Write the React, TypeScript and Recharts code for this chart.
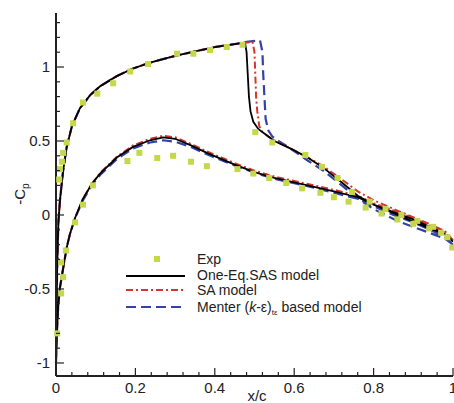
import React from "react";
import { ComposedChart, Line, Scatter, XAxis, YAxis, Legend } from "recharts";

// x/c ticks (every 0.04) and -Cp ticks (every 0.1); only the major ones get labels
const xTicks = [0, 0.04, 0.08, 0.12, 0.16, 0.2, 0.24, 0.28, 0.32, 0.36, 0.4, 0.44, 0.48, 0.52, 0.56, 0.6, 0.64, 0.68, 0.72, 0.76, 0.8, 0.84, 0.88, 0.92, 0.96, 1];
const xMajor = [0, 0.2, 0.4, 0.6, 0.8, 1];
const yTicks = [-1, -0.9, -0.8, -0.7, -0.6, -0.5, -0.4, -0.3, -0.2, -0.1, 0, 0.1, 0.2, 0.3, 0.4, 0.5, 0.6, 0.7, 0.8, 0.9, 1, 1.1, 1.2, 1.3];
const yMajor = [-1, -0.5, 0, 0.5, 1];

// experiment, suction side and pressure side
const expUpper = [
  { x: 0.008, y: 0.24 }, { x: 0.01, y: 0.31 }, { x: 0.015, y: 0.36 }, { x: 0.018, y: 0.42 },
  { x: 0.027, y: 0.49 }, { x: 0.043, y: 0.62 }, { x: 0.068, y: 0.76 }, { x: 0.104, y: 0.82 },
  { x: 0.144, y: 0.89 }, { x: 0.187, y: 0.97 }, { x: 0.232, y: 1.02 }, { x: 0.305, y: 1.09 },
  { x: 0.346, y: 1.09 }, { x: 0.388, y: 1.115 }, { x: 0.43, y: 1.135 }, { x: 0.47, y: 1.15 },
  { x: 0.502, y: 0.56 }, { x: 0.545, y: 0.49 }, { x: 0.628, y: 0.405 }, { x: 0.67, y: 0.325 },
  { x: 0.709, y: 0.25 }, { x: 0.746, y: 0.155 }, { x: 0.79, y: 0.09 }, { x: 0.83, y: 0.04 },
  { x: 0.87, y: 0.0 }, { x: 0.91, y: -0.04 }, { x: 0.95, y: -0.08 }, { x: 0.986, y: -0.15 },
];
const expLower = [
  { x: 0.003, y: -0.8 }, { x: 0.013, y: -0.53 }, { x: 0.018, y: -0.42 }, { x: 0.013, y: -0.32 },
  { x: 0.025, y: -0.24 }, { x: 0.048, y: -0.05 }, { x: 0.068, y: 0.07 }, { x: 0.093, y: 0.2 },
  { x: 0.18, y: 0.365 }, { x: 0.21, y: 0.42 }, { x: 0.255, y: 0.385 }, { x: 0.295, y: 0.4 },
  { x: 0.34, y: 0.36 }, { x: 0.38, y: 0.33 }, { x: 0.457, y: 0.31 }, { x: 0.497, y: 0.28 },
  { x: 0.537, y: 0.25 }, { x: 0.58, y: 0.216 }, { x: 0.62, y: 0.18 }, { x: 0.666, y: 0.15 },
  { x: 0.7, y: 0.12 }, { x: 0.737, y: 0.09 }, { x: 0.78, y: 0.05 }, { x: 0.82, y: 0.01 },
  { x: 0.86, y: -0.03 }, { x: 0.9, y: -0.06 }, { x: 0.94, y: -0.09 }, { x: 0.97, y: -0.12 },
  { x: 0.998, y: -0.22 },
];

// One-Eq.SAS model
const sasUpper = [
  { x: 0, y: -1 }, { x: 0.001, y: -0.7 }, { x: 0.003, y: -0.35 }, { x: 0.006, y: -0.05 },
  { x: 0.01, y: 0.1 }, { x: 0.018, y: 0.3 }, { x: 0.027, y: 0.46 }, { x: 0.04, y: 0.6 },
  { x: 0.06, y: 0.72 }, { x: 0.086, y: 0.81 }, { x: 0.111, y: 0.87 }, { x: 0.154, y: 0.94 },
  { x: 0.194, y: 0.99 }, { x: 0.237, y: 1.03 }, { x: 0.3, y: 1.075 }, { x: 0.35, y: 1.105 },
  { x: 0.4, y: 1.135 }, { x: 0.45, y: 1.155 }, { x: 0.476, y: 1.165 }, { x: 0.48, y: 1.1 },
  { x: 0.483, y: 0.95 }, { x: 0.486, y: 0.8 }, { x: 0.49, y: 0.7 }, { x: 0.497, y: 0.63 },
  { x: 0.51, y: 0.58 }, { x: 0.53, y: 0.54 }, { x: 0.55, y: 0.5 }, { x: 0.59, y: 0.45 },
  { x: 0.633, y: 0.39 }, { x: 0.673, y: 0.32 }, { x: 0.72, y: 0.22 }, { x: 0.76, y: 0.13 },
  { x: 0.8, y: 0.07 }, { x: 0.86, y: 0.0 }, { x: 0.94, y: -0.09 }, { x: 0.98, y: -0.13 },
  { x: 1, y: -0.18 },
];
const sasLower = [
  { x: 0, y: -1 }, { x: 0.001, y: -0.9 }, { x: 0.003, y: -0.75 }, { x: 0.006, y: -0.6 },
  { x: 0.01, y: -0.49 }, { x: 0.018, y: -0.36 }, { x: 0.027, y: -0.22 }, { x: 0.035, y: -0.13 },
  { x: 0.048, y: -0.02 }, { x: 0.068, y: 0.11 }, { x: 0.09, y: 0.21 }, { x: 0.111, y: 0.28 },
  { x: 0.154, y: 0.39 }, { x: 0.194, y: 0.46 }, { x: 0.237, y: 0.505 }, { x: 0.27, y: 0.525 },
  { x: 0.3, y: 0.515 }, { x: 0.34, y: 0.47 }, { x: 0.38, y: 0.42 }, { x: 0.45, y: 0.34 },
  { x: 0.5, y: 0.29 }, { x: 0.55, y: 0.25 }, { x: 0.6, y: 0.22 }, { x: 0.65, y: 0.19 },
  { x: 0.7, y: 0.16 }, { x: 0.76, y: 0.12 }, { x: 0.8, y: 0.07 }, { x: 0.85, y: 0.02 },
  { x: 0.9, y: -0.03 }, { x: 0.95, y: -0.09 }, { x: 0.98, y: -0.13 }, { x: 1, y: -0.18 },
];

// SA model
const saUpper = [
  { x: 0, y: -1 }, { x: 0.001, y: -0.7 }, { x: 0.003, y: -0.35 }, { x: 0.006, y: -0.05 },
  { x: 0.01, y: 0.1 }, { x: 0.018, y: 0.3 }, { x: 0.027, y: 0.46 }, { x: 0.04, y: 0.6 },
  { x: 0.06, y: 0.72 }, { x: 0.086, y: 0.81 }, { x: 0.111, y: 0.87 }, { x: 0.154, y: 0.94 },
  { x: 0.194, y: 0.99 }, { x: 0.237, y: 1.03 }, { x: 0.3, y: 1.075 }, { x: 0.35, y: 1.105 },
  { x: 0.4, y: 1.135 }, { x: 0.45, y: 1.155 }, { x: 0.495, y: 1.17 }, { x: 0.5, y: 1.1 },
  { x: 0.502, y: 0.95 }, { x: 0.504, y: 0.8 }, { x: 0.507, y: 0.7 }, { x: 0.512, y: 0.6 },
  { x: 0.52, y: 0.56 }, { x: 0.535, y: 0.53 }, { x: 0.55, y: 0.505 }, { x: 0.59, y: 0.45 },
  { x: 0.633, y: 0.39 }, { x: 0.673, y: 0.33 }, { x: 0.72, y: 0.24 }, { x: 0.76, y: 0.16 },
  { x: 0.8, y: 0.1 }, { x: 0.86, y: 0.03 }, { x: 0.94, y: -0.06 }, { x: 0.98, y: -0.11 },
  { x: 1, y: -0.17 },
];
const saLower = [
  { x: 0, y: -1 }, { x: 0.001, y: -0.9 }, { x: 0.003, y: -0.75 }, { x: 0.006, y: -0.6 },
  { x: 0.01, y: -0.49 }, { x: 0.018, y: -0.36 }, { x: 0.027, y: -0.22 }, { x: 0.035, y: -0.13 },
  { x: 0.048, y: -0.02 }, { x: 0.068, y: 0.11 }, { x: 0.09, y: 0.21 }, { x: 0.111, y: 0.285 },
  { x: 0.154, y: 0.395 }, { x: 0.194, y: 0.47 }, { x: 0.237, y: 0.515 }, { x: 0.27, y: 0.535 },
  { x: 0.3, y: 0.525 }, { x: 0.34, y: 0.48 }, { x: 0.38, y: 0.43 }, { x: 0.45, y: 0.35 },
  { x: 0.5, y: 0.3 }, { x: 0.55, y: 0.26 }, { x: 0.6, y: 0.23 }, { x: 0.65, y: 0.2 },
  { x: 0.7, y: 0.17 }, { x: 0.76, y: 0.13 }, { x: 0.8, y: 0.08 }, { x: 0.85, y: 0.03 },
  { x: 0.9, y: -0.02 }, { x: 0.95, y: -0.08 }, { x: 0.98, y: -0.12 }, { x: 1, y: -0.17 },
];

// Menter (k-e) based model
const menterUpper = [
  { x: 0, y: -1 }, { x: 0.001, y: -0.7 }, { x: 0.003, y: -0.35 }, { x: 0.006, y: -0.05 },
  { x: 0.01, y: 0.1 }, { x: 0.018, y: 0.3 }, { x: 0.027, y: 0.46 }, { x: 0.04, y: 0.6 },
  { x: 0.06, y: 0.72 }, { x: 0.086, y: 0.81 }, { x: 0.111, y: 0.87 }, { x: 0.154, y: 0.94 },
  { x: 0.194, y: 0.99 }, { x: 0.237, y: 1.03 }, { x: 0.3, y: 1.075 }, { x: 0.35, y: 1.105 },
  { x: 0.4, y: 1.135 }, { x: 0.45, y: 1.155 }, { x: 0.48, y: 1.17 }, { x: 0.514, y: 1.18 },
  { x: 0.52, y: 1.1 }, { x: 0.522, y: 0.95 }, { x: 0.525, y: 0.8 }, { x: 0.528, y: 0.65 },
  { x: 0.535, y: 0.57 }, { x: 0.545, y: 0.53 }, { x: 0.557, y: 0.507 }, { x: 0.59, y: 0.45 },
  { x: 0.633, y: 0.37 }, { x: 0.673, y: 0.3 }, { x: 0.72, y: 0.2 }, { x: 0.76, y: 0.11 },
  { x: 0.8, y: 0.04 }, { x: 0.86, y: -0.04 }, { x: 0.94, y: -0.12 }, { x: 0.98, y: -0.16 },
  { x: 1, y: -0.2 },
];
const menterLower = [
  { x: 0, y: -1 }, { x: 0.001, y: -0.9 }, { x: 0.003, y: -0.75 }, { x: 0.006, y: -0.6 },
  { x: 0.01, y: -0.49 }, { x: 0.018, y: -0.36 }, { x: 0.027, y: -0.22 }, { x: 0.035, y: -0.13 },
  { x: 0.048, y: -0.02 }, { x: 0.068, y: 0.1 }, { x: 0.09, y: 0.2 }, { x: 0.111, y: 0.27 },
  { x: 0.154, y: 0.38 }, { x: 0.194, y: 0.45 }, { x: 0.237, y: 0.49 }, { x: 0.27, y: 0.505 },
  { x: 0.3, y: 0.495 }, { x: 0.34, y: 0.46 }, { x: 0.38, y: 0.41 }, { x: 0.45, y: 0.335 },
  { x: 0.5, y: 0.285 }, { x: 0.55, y: 0.245 }, { x: 0.6, y: 0.215 }, { x: 0.65, y: 0.185 },
  { x: 0.7, y: 0.15 }, { x: 0.76, y: 0.11 }, { x: 0.8, y: 0.06 }, { x: 0.85, y: 0.0 },
  { x: 0.9, y: -0.05 }, { x: 0.95, y: -0.11 }, { x: 0.98, y: -0.15 }, { x: 1, y: -0.2 },
];

const FONT = "'Liberation Sans', Arial, sans-serif";
const EXP = "#c4d84a";
const RED = "#d3362c";
const BLUE = "#3342a6";

// one closed line per model: trailing edge -> leading edge (suction) -> trailing edge (pressure)
const loop = (upper: { x: number; y: number }[], lower: { x: number; y: number }[]) =>
  [...upper].reverse().concat(lower);

const XTick = (props: any) => {
  const { x, y, payload } = props;
  const major = xMajor.includes(payload.value);
  return (
    <g>
      <line x1={x} x2={x} y1={y} y2={y - (major ? 8 : 4)} stroke="#222" strokeWidth={1.2} />
      {major && (
        <text x={x} y={y + 17} textAnchor="middle" fontSize={15} fontFamily={FONT} fill="#222">
          {payload.value}
        </text>
      )}
    </g>
  );
};

const YTick = (props: any) => {
  const { x, y, payload } = props;
  const major = yMajor.includes(payload.value);
  return (
    <g>
      <line x1={x} x2={x + (major ? 8 : 4)} y1={y} y2={y} stroke="#222" strokeWidth={1.2} />
      {major && (
        <text x={x - 6} y={y + 5} textAnchor="end" fontSize={15} fontFamily={FONT} fill="#222">
          {payload.value}
        </text>
      )}
    </g>
  );
};

const LegendBox = () => (
  <svg width={260} height={70} style={{ overflow: "visible", display: "block" }}>
    <rect x={34} y={8} width={6} height={6} fill={EXP} />
    <line x1={6} x2={65} y1={28} y2={28} stroke="#000" strokeWidth={2} />
    <line x1={6} x2={65} y1={42} y2={42} stroke={RED} strokeWidth={2} strokeDasharray="7 3 2 3" />
    <line x1={6} x2={65} y1={59} y2={59} stroke={BLUE} strokeWidth={2.2} strokeDasharray="10 5" />
    <g fontSize={14} fontFamily={FONT} fill="#222">
      <text x={77} y={16}>Exp</text>
      <text x={77} y={32}>One-Eq.SAS model</text>
      <text x={77} y={47}>SA model</text>
      <text x={77} y={64}>
        Menter (<tspan fontStyle="italic">k</tspan>-ε)
        <tspan fontSize={8} dy={3}>tε</tspan>
        <tspan dy={-3}> based model</tspan>
      </text>
    </g>
  </svg>
);

const Square = (props: any) => (
  <rect x={props.cx - 3} y={props.cy - 3} width={6} height={6} fill={EXP} />
);

export default function App() {
  return (
    <div style={{ position: "absolute", left: 0, top: 0, background: "#fff" }}>
      <ComposedChart width={470} height={403} margin={{ top: 13, right: 17, bottom: 0, left: 0 }}>
        <XAxis
          type="number"
          dataKey="x"
          domain={[0, 1]}
          ticks={xTicks}
          interval={0}
          height={27}
          tickSize={0}
          tickMargin={0}
          tickLine={false}
          tick={XTick}
          axisLine={{ stroke: "#222", strokeWidth: 2 }}
          label={{
            content: () => (
              <text x={257} y={401} textAnchor="middle" fontSize={15} fontFamily={FONT} fill="#222">
                x/c
              </text>
            ),
          }}
        />
        <YAxis
          type="number"
          dataKey="y"
          domain={[-1.088, 1.365]}
          allowDataOverflow
          ticks={yTicks}
          interval={0}
          width={56}
          tickSize={0}
          tickMargin={0}
          tickLine={false}
          tick={YTick}
          axisLine={{ stroke: "#222", strokeWidth: 2 }}
          label={{
            content: () => (
              <text
                transform="translate(25,194) rotate(-90)"
                textAnchor="middle"
                fontSize={15}
                fontFamily={FONT}
                fill="#222"
              >
                -C<tspan fontSize={10} dy={4}>p</tspan>
              </text>
            ),
          }}
        />
        <Scatter data={expUpper} dataKey="y" shape={Square} isAnimationActive={false} />
        <Scatter data={expLower} dataKey="y" shape={Square} isAnimationActive={false} />
        <Line
          data={loop(menterUpper, menterLower)}
          dataKey="y"
          type="linear"
          stroke={BLUE}
          strokeWidth={2.2}
          strokeDasharray="10 5"
          dot={false}
          activeDot={false}
          isAnimationActive={false}
        />
        <Line
          data={loop(saUpper, saLower)}
          dataKey="y"
          type="linear"
          stroke={RED}
          strokeWidth={2}
          strokeDasharray="7 3 2 3"
          dot={false}
          activeDot={false}
          isAnimationActive={false}
        />
        <Line
          data={loop(sasUpper, sasLower)}
          dataKey="y"
          type="linear"
          stroke="#000"
          strokeWidth={1.8}
          dot={false}
          activeDot={false}
          isAnimationActive={false}
        />
        <Legend
          layout="horizontal"
          verticalAlign="middle"
          align="center"
          content={LegendBox}
          wrapperStyle={{ position: "absolute", left: 120, top: 248, width: 260, height: 70 }}
        />
      </ComposedChart>
    </div>
  );
}
